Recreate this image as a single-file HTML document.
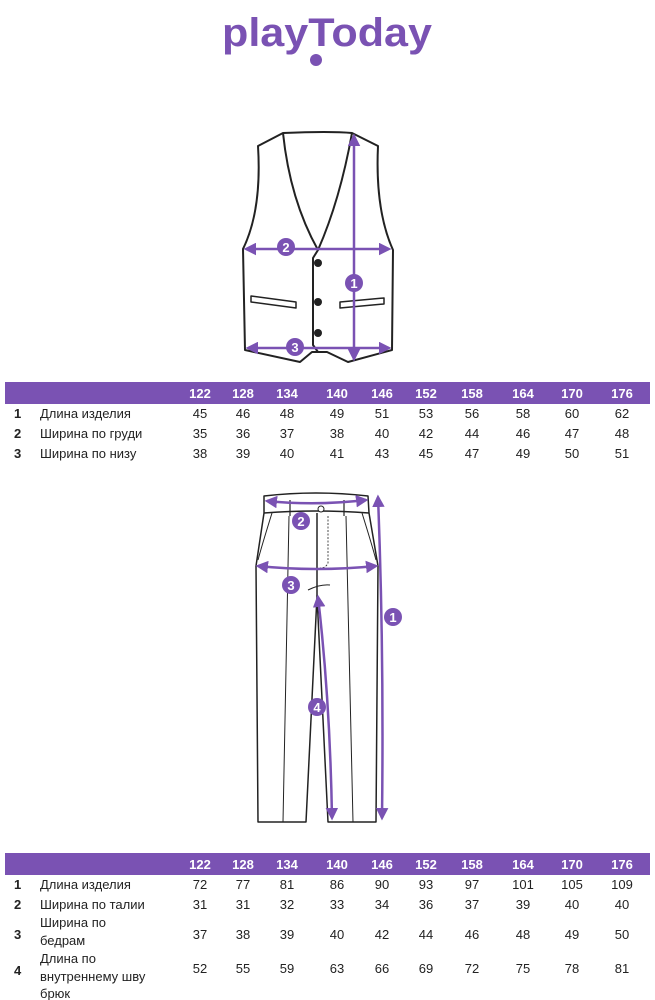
<!DOCTYPE html>
<html><head><meta charset="utf-8"><style>
html,body{margin:0;padding:0;background:#fff;width:655px;height:1000px;overflow:hidden}
svg text{font-family:"Liberation Sans",sans-serif}
</style></head><body>
<svg width="655" height="1000" viewBox="0 0 655 1000" xmlns="http://www.w3.org/2000/svg">
<defs>
<marker id="ah" viewBox="0 0 10 10" refX="8" refY="5" markerWidth="5" markerHeight="5" orient="auto-start-reverse"><path d="M0,0 L10,5 L0,10 z" fill="#7a52b3"/></marker>
</defs>
<!-- logo -->
<text x="327" y="46" text-anchor="middle" font-size="40" font-weight="bold" fill="#7a52b3" textLength="210" lengthAdjust="spacingAndGlyphs">playToday</text>
<circle cx="316" cy="60" r="6" fill="#7a52b3"/>

<!-- vest -->
<g fill="none" stroke="#222" stroke-width="2" stroke-linejoin="round">
<path d="M283,133 L258,146 Q262,210 243,249 L245,350 L300,362 L312,352 L327,352 L348,362 L392,350 L393,250 Q375,210 378,146 L352,133 Q330,131 283,133 Z" fill="#fff"/>
<path d="M283,133 Q290,200 318,250 Q340,200 352,133"/>
<path d="M318,250 L313,258 L313,345 L318,352"/>
<path d="M251,296 L296,302 L296,308 L251,302 Z" stroke-width="1.5"/>
<path d="M340,302 L384,298 L384,304 L340,308 Z" stroke-width="1.5"/>
</g>
<circle cx="318" cy="263" r="4" fill="#222"/>
<circle cx="318" cy="302" r="4" fill="#222"/>
<circle cx="318" cy="333" r="4" fill="#222"/>
<g stroke="#7a52b3" stroke-width="2.5" fill="none">
<line x1="246" y1="249" x2="389" y2="249" marker-start="url(#ah)" marker-end="url(#ah)"/>
<line x1="354" y1="136" x2="354" y2="359" marker-start="url(#ah)" marker-end="url(#ah)"/>
<line x1="248" y1="348" x2="389" y2="348" marker-start="url(#ah)" marker-end="url(#ah)"/>
</g>
<g fill="#7a52b3"><circle cx="286" cy="247" r="9"/><circle cx="354" cy="283" r="9"/><circle cx="295" cy="347" r="9"/></g>
<g fill="#fff" font-size="13" font-weight="bold" text-anchor="middle"><text x="286" y="252">2</text><text x="354" y="288">1</text><text x="295" y="352">3</text></g>

<!-- table 1 -->
<rect x="5" y="382" width="645" height="22" fill="#7a52b3"/>
<g font-size="13" text-anchor="middle" fill="#fff" font-weight="bold">
<text x="200" y="398">122</text><text x="243" y="398">128</text><text x="287" y="398">134</text><text x="337" y="398">140</text><text x="382" y="398">146</text><text x="426" y="398">152</text><text x="472" y="398">158</text><text x="523" y="398">164</text><text x="572" y="398">170</text><text x="622" y="398">176</text>
</g>
<g font-size="13" fill="#222">
<text x="14" y="418" font-weight="bold">1</text><text x="40" y="418">Длина изделия</text>
<text x="14" y="438" font-weight="bold">2</text><text x="40" y="438">Ширина по груди</text>
<text x="14" y="458" font-weight="bold">3</text><text x="40" y="458">Ширина по низу</text>
</g>
<g font-size="13" fill="#222" text-anchor="middle">
<text y="418"><tspan x="200">45</tspan><tspan x="243">46</tspan><tspan x="287">48</tspan><tspan x="337">49</tspan><tspan x="382">51</tspan><tspan x="426">53</tspan><tspan x="472">56</tspan><tspan x="523">58</tspan><tspan x="572">60</tspan><tspan x="622">62</tspan></text>
<text y="438"><tspan x="200">35</tspan><tspan x="243">36</tspan><tspan x="287">37</tspan><tspan x="337">38</tspan><tspan x="382">40</tspan><tspan x="426">42</tspan><tspan x="472">44</tspan><tspan x="523">46</tspan><tspan x="572">47</tspan><tspan x="622">48</tspan></text>
<text y="458"><tspan x="200">38</tspan><tspan x="243">39</tspan><tspan x="287">40</tspan><tspan x="337">41</tspan><tspan x="382">43</tspan><tspan x="426">45</tspan><tspan x="472">47</tspan><tspan x="523">49</tspan><tspan x="572">50</tspan><tspan x="622">51</tspan></text>
</g>

<!-- pants -->
<g fill="none" stroke="#222" stroke-width="1.5" stroke-linejoin="round">
<path d="M264,496 Q316,490 368,496 L369,513 L378,566 L376,822 L328,822 L317,596 L306,822 L258,822 L256,566 L264,513 Z" fill="#fff"/>
<path d="M264,513 Q316,509 369,513"/>
<path d="M317,513 L317,596"/>
<path d="M290,500 L290,516 M344,500 L344,516" stroke-width="1.2"/>
<path d="M272,513 Q262,545 258,560 M362,513 Q372,545 376,560" stroke-width="1"/>
<path d="M289,516 L283,822 M346,516 L353,822" stroke-width="1"/>
<path d="M328,516 L328,563 Q326,568 320,568" stroke-width="0.8" stroke-dasharray="2,1.5"/>
<path d="M308,590 Q320,584 330,585" stroke-width="1"/>
</g>
<circle cx="321" cy="509" r="3" fill="#fff" stroke="#222"/>
<g stroke="#7a52b3" stroke-width="2.5" fill="none">
<path d="M267,501 Q316,506 366,500" marker-start="url(#ah)" marker-end="url(#ah)"/>
<path d="M258,566 Q316,572 376,566" marker-start="url(#ah)" marker-end="url(#ah)"/>
<path d="M378,497 Q384,650 382,818" marker-start="url(#ah)" marker-end="url(#ah)"/>
<path d="M318,597 Q330,700 332,818" marker-start="url(#ah)" marker-end="url(#ah)"/>
</g>
<g fill="#7a52b3"><circle cx="301" cy="521" r="9"/><circle cx="291" cy="585" r="9"/><circle cx="393" cy="617" r="9"/><circle cx="317" cy="707" r="9"/></g>
<g fill="#fff" font-size="13" font-weight="bold" text-anchor="middle"><text x="301" y="526">2</text><text x="291" y="590">3</text><text x="393" y="622">1</text><text x="317" y="712">4</text></g>

<!-- table 2 -->
<rect x="5" y="853" width="645" height="22" fill="#7a52b3"/>
<g font-size="13" text-anchor="middle" fill="#fff" font-weight="bold">
<text x="200" y="869">122</text><text x="243" y="869">128</text><text x="287" y="869">134</text><text x="337" y="869">140</text><text x="382" y="869">146</text><text x="426" y="869">152</text><text x="472" y="869">158</text><text x="523" y="869">164</text><text x="572" y="869">170</text><text x="622" y="869">176</text>
</g>
<g font-size="13" fill="#222">
<text x="14" y="889" font-weight="bold">1</text><text x="40" y="889">Длина изделия</text>
<text x="14" y="909" font-weight="bold">2</text><text x="40" y="909">Ширина по талии</text>
<text x="14" y="939" font-weight="bold">3</text><text x="40" y="927">Ширина по</text><text x="40" y="945">бедрам</text>
<text x="14" y="975" font-weight="bold">4</text><text x="40" y="963">Длина по</text><text x="40" y="981">внутреннему шву</text><text x="40" y="998">брюк</text>
</g>
<g font-size="13" fill="#222" text-anchor="middle">
<text y="889"><tspan x="200">72</tspan><tspan x="243">77</tspan><tspan x="287">81</tspan><tspan x="337">86</tspan><tspan x="382">90</tspan><tspan x="426">93</tspan><tspan x="472">97</tspan><tspan x="523">101</tspan><tspan x="572">105</tspan><tspan x="622">109</tspan></text>
<text y="909"><tspan x="200">31</tspan><tspan x="243">31</tspan><tspan x="287">32</tspan><tspan x="337">33</tspan><tspan x="382">34</tspan><tspan x="426">36</tspan><tspan x="472">37</tspan><tspan x="523">39</tspan><tspan x="572">40</tspan><tspan x="622">40</tspan></text>
<text y="939"><tspan x="200">37</tspan><tspan x="243">38</tspan><tspan x="287">39</tspan><tspan x="337">40</tspan><tspan x="382">42</tspan><tspan x="426">44</tspan><tspan x="472">46</tspan><tspan x="523">48</tspan><tspan x="572">49</tspan><tspan x="622">50</tspan></text>
<text y="973"><tspan x="200">52</tspan><tspan x="243">55</tspan><tspan x="287">59</tspan><tspan x="337">63</tspan><tspan x="382">66</tspan><tspan x="426">69</tspan><tspan x="472">72</tspan><tspan x="523">75</tspan><tspan x="572">78</tspan><tspan x="622">81</tspan></text>
</g>
</svg>
</body></html>
